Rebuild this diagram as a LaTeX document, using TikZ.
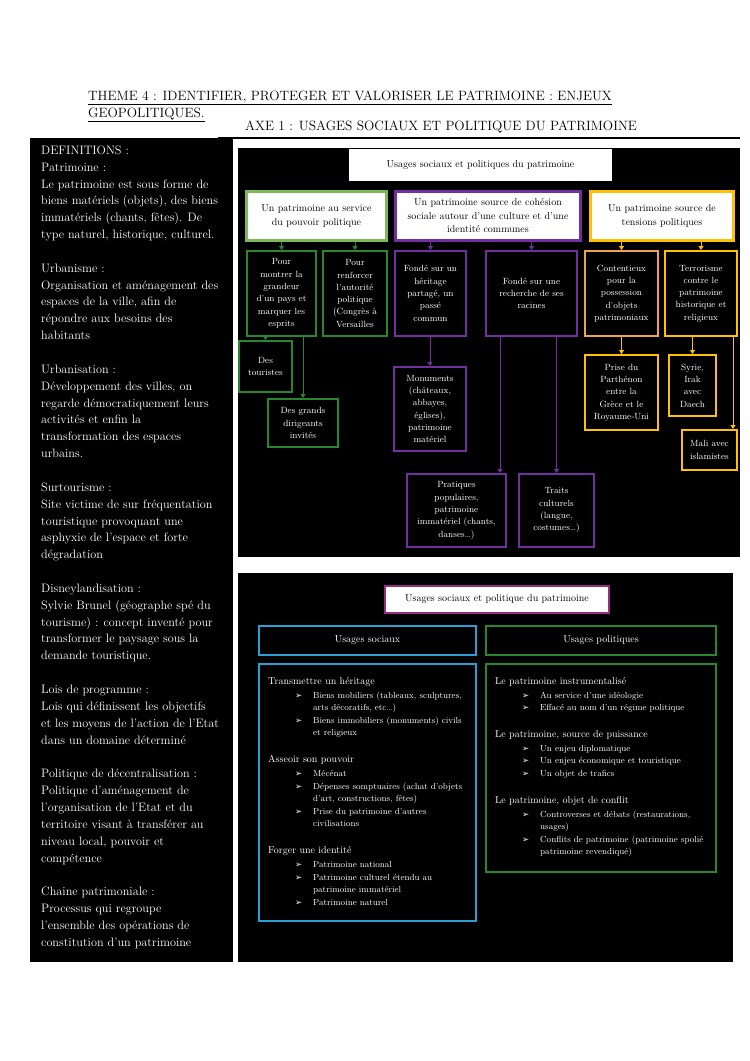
\documentclass[tikz,border=0pt]{standalone}
\usepackage{fontspec}
\usepackage{xcolor}
\usetikzlibrary{arrows.meta,positioning}
\newfontfamily\bulletfont{DejaVu Sans}

\definecolor{vertclair}{RGB}{125,185,85}
\definecolor{vertfonce}{RGB}{40,135,45}
\definecolor{violetp}{RGB}{112,48,160}
\definecolor{jaunep}{RGB}{255,192,0}
\definecolor{orangep}{RGB}{240,160,80}
\definecolor{bleup}{RGB}{40,160,215}
\definecolor{magentap}{RGB}{150,45,130}

% puces des listes
\newcommand{\listhd}{\fontsize{10}{12.6}\selectfont}
\newcommand{\bulitem}{\hspace*{27pt}\makebox[18pt][l]{\bulletfont\fontsize{8.5}{8}\selectfont ➢}}
\newcommand{\bulcont}{\hspace*{45pt}}

\begin{document}
\begin{tikzpicture}[x=1pt, y=-1pt,
    titre/.style={inner sep=0, font=\fontsize{13.5}{16}\selectfont},
    deftxt/.style={text=white, align=left, inner sep=0, anchor=north west, font=\fontsize{12.2}{16.85}\selectfont},
    headbox/.style={fill=white, draw=#1, line width=2.5pt, align=center, inner sep=0, font=\fontsize{10}{13.5}\selectfont},
    leafbox/.style={fill=black, draw=#1, line width=2pt, text=white, align=center, inner sep=0, font=\fontsize{9}{12.3}\selectfont},
    secbox/.style={fill=black, draw=#1, line width=2pt, text=white, inner sep=0, font=\fontsize{10}{12}\selectfont},
    listtxt/.style={text=white, align=left, inner sep=0, anchor=north west, font=\fontsize{8.8}{12.6}\selectfont},
    arr/.style={draw=#1, line width=1pt, -{Triangle[width=5pt,length=4pt]}}
]
    \useasboundingbox (0,0) rectangle (750,1061);

    % Titres
    \node[titre, anchor=base west] (theme) at (88,100) {\underline{THEME 4 : IDENTIFIER, PROTEGER ET VALORISER LE PATRIMOINE : ENJEUX}};
    \node[titre, anchor=base west] (theme2) at (88,117) {\underline{GEOPOLITIQUES.}};
    \node[titre, anchor=base west] (axe) at (245,130) {AXE 1 : USAGES SOCIAUX ET POLITIQUE DU PATRIMOINE};
    \draw[line width=1.5pt] (218,138) -- (740,138);

    % Colonne des definitions
    \fill[black] (30,138) rectangle (233,962);
    \node[deftxt] (defs) at (41,145.5) {DEFINITIONS :\\
        Patrimoine :\\
        Le patrimoine est sous forme de\\
        biens matériels (objets), des biens\\
        immatériels (chants, fêtes). De\\
        type naturel, historique, culturel.\\[16.85pt]
        Urbanisme :\\
        Organisation et aménagement des\\
        espaces de la ville, afin de\\
        répondre aux besoins des\\
        habitants\\[16.85pt]
        Urbanisation :\\
        Développement des villes, on\\
        regarde démocratiquement leurs\\
        activités et enfin la\\
        transformation des espaces\\
        urbains.\\[16.85pt]
        Surtourisme :\\
        Site victime de sur fréquentation\\
        touristique provoquant une\\
        asphyxie de l’espace et forte\\
        dégradation\\[16.85pt]
        Disneylandisation :\\
        Sylvie Brunel (géographe spé du\\
        tourisme) : concept inventé pour\\
        transformer le paysage sous la\\
        demande touristique.\\[16.85pt]
        Lois de programme :\\
        Lois qui définissent les objectifs\\
        et les moyens de l’action de l’Etat\\
        dans un domaine déterminé\\[16.85pt]
        Politique de décentralisation :\\
        Politique d’aménagement de\\
        l’organisation de l’Etat et du\\
        territoire visant à transférer au\\
        niveau local, pouvoir et\\
        compétence\\[16.85pt]
        Chaine patrimoniale :\\
        Processus qui regroupe\\
        l’ensemble des opérations de\\
        constitution d’un patrimoine};

    % Schema du haut
    \fill[black] (238,148) rectangle (740,557);
    \node[headbox=white, minimum width=261pt, minimum height=30pt] (usages) at (480.5,165) {Usages sociaux et politiques du patrimoine};

    \node[headbox=vertclair, minimum width=140pt, minimum height=49pt] (serv) at (316.5,216) {Un patrimoine au service\\du pouvoir politique};
    \node[headbox=violetp, minimum width=185pt, minimum height=49pt] (cohes) at (488,216) {Un patrimoine source de cohésion\\sociale autour d’une culture et d’une\\identité communes};
    \node[headbox=jaunep, minimum width=143pt, minimum height=49pt] (tens) at (662,216) {Un patrimoine source de\\tensions politiques};

    \node[leafbox=vertfonce, minimum width=69pt, minimum height=85pt] (mont) at (281.5,293.5) {Pour\\montrer la\\grandeur\\d’un pays et\\marquer les\\esprits};
    \node[leafbox=vertfonce, minimum width=64pt, minimum height=85pt] (renf) at (355,293.5) {Pour\\renforcer\\l’autorité\\politique\\(Congrès à\\Versailles};
    \node[leafbox=violetp, minimum width=71pt, minimum height=85pt] (herit) at (430.5,293.5) {Fondé sur un\\héritage\\partagé, un\\passé\\commun};
    \node[leafbox=violetp, minimum width=91pt, minimum height=85pt] (racin) at (531.5,293.5) {Fondé sur une\\recherche de ses\\racines};
    \node[leafbox=orangep, minimum width=73pt, minimum height=85pt] (conten) at (621.5,293.5) {Contentieux\\pour la\\possession\\d’objets\\patrimoniaux};
    \node[leafbox=jaunep, minimum width=72pt, minimum height=85pt] (terro) at (701,293.5) {Terrorisme\\contre le\\patrimoine\\historique et\\religieux};

    \node[leafbox=vertfonce, minimum width=53pt, minimum height=51pt] (tour) at (265.5,366.5) {Des\\touristes};
    \node[leafbox=vertfonce, minimum width=70pt, minimum height=48pt] (dirig) at (303,423) {Des grands\\dirigeants\\invités};
    \node[leafbox=violetp, minimum width=72pt, minimum height=84pt] (monum) at (430,409) {Monuments\\(châteaux,\\abbayes,\\églises),\\patrimoine\\matériel};
    \node[leafbox=violetp, minimum width=99pt, minimum height=73pt] (prat) at (456.5,510.5) {Pratiques\\populaires,\\patrimoine\\immatériel (chants,\\danses…)};
    \node[leafbox=violetp, minimum width=75pt, minimum height=73pt] (trait) at (556.5,510.5) {Traits\\culturels\\(langue,\\costumes…)};
    \node[leafbox=jaunep, minimum width=73pt, minimum height=75pt] (parth) at (621.5,392.5) {Prise du\\Parthénon\\entre la\\Grèce et le\\Royaume-Uni};
    \node[leafbox=jaunep, minimum width=47pt, minimum height=61pt] (syrie) at (692.5,385.5) {Syrie,\\Irak\\avec\\Daech};
    \node[leafbox=jaunep, minimum width=55pt, minimum height=40pt] (mali) at (709.5,450) {Mali avec\\islamistes};

    % Fleches
    \draw[arr=vertfonce] (serv.south -| mont.north) -- (mont.north);
    \draw[arr=vertfonce] (serv.south -| renf.north) -- (renf.north);
    \draw[arr=vertfonce] (mont.south -| tour.north) -- (tour.north);
    \draw[arr=vertfonce] (mont.south -| dirig.north) -- (dirig.north);
    \draw[arr=violetp] (cohes.south -| herit.north) -- (herit.north);
    \draw[arr=violetp] (cohes.south -| racin.north) -- (racin.north);
    \draw[arr=violetp] (herit.south -| monum.north) -- (monum.north);
    \coordinate (pratin) at ([xshift=15pt]racin.south west);
    \draw[arr=violetp] (pratin) -- (pratin |- prat.north);
    \draw[arr=violetp] (racin.south -| trait.north) -- (trait.north);
    \draw[arr=jaunep] (tens.south -| conten.north) -- (conten.north);
    \draw[arr=jaunep] (tens.south -| terro.north) -- (terro.north);
    \draw[arr=jaunep] (conten.south -| parth.north) -- (parth.north);
    \draw[arr=jaunep] (terro.south -| syrie.north) -- (syrie.north);
    \coordinate (maliin) at ([xshift=-5pt]terro.south east);
    \draw[arr=jaunep] (maliin) -- (maliin |- mali.north);

    % Schema du bas
    \fill[black] (238,573) rectangle (733,962);
    \node[headbox=magentap, line width=1.8pt, minimum width=224pt, minimum height=27pt] (usages2) at (497,599.5) {Usages sociaux et politique du patrimoine};
    \node[secbox=bleup, minimum width=217pt, minimum height=29pt] (soc) at (367.5,640.5) {Usages sociaux};
    \node[secbox=vertfonce, minimum width=230pt, minimum height=29pt] (pol) at (601,640.5) {Usages politiques};
    \node[secbox=bleup, minimum width=217pt, minimum height=257pt] (socbox) at (367.5,792.5) {};
    \node[secbox=vertfonce, minimum width=230pt, minimum height=208pt] (polbox) at (601,768) {};

    \node[listtxt] (soctxt) at ([xshift=10pt,yshift=-14pt]socbox.north west) {%
        {\listhd Transmettre un héritage}\\[1.4pt]
        \bulitem Biens mobiliers (tableaux, sculptures,\\
        \bulcont arts décoratifs, etc…)\\
        \bulitem Biens immobiliers (monuments) civils\\
        \bulcont et religieux\\[14pt]
        {\listhd Asseoir son pouvoir}\\[1.4pt]
        \bulitem Mécénat\\
        \bulitem Dépenses somptuaires (achat d’objets\\
        \bulcont d’art, constructions, fêtes)\\
        \bulitem Prise du patrimoine d’autres\\
        \bulcont civilisations\\[14pt]
        {\listhd Forger une identité}\\[1.4pt]
        \bulitem Patrimoine national\\
        \bulitem Patrimoine culturel étendu au\\
        \bulcont patrimoine immatériel\\
        \bulitem Patrimoine naturel};

    \node[listtxt] (poltxt) at ([xshift=10pt,yshift=-14pt]polbox.north west) {%
        {\listhd Le patrimoine instrumentalisé}\\[1.4pt]
        \bulitem Au service d’une idéologie\\
        \bulitem Effacé au nom d’un régime politique\\[14pt]
        {\listhd Le patrimoine, source de puissance}\\[1.4pt]
        \bulitem Un enjeu diplomatique\\
        \bulitem Un enjeu économique et touristique\\
        \bulitem Un objet de trafics\\[14pt]
        {\listhd Le patrimoine, objet de conflit}\\[1.4pt]
        \bulitem Controverses et débats (restaurations,\\
        \bulcont usages)\\
        \bulitem Conflits de patrimoine (patrimoine spolié\\
        \bulcont patrimoine revendiqué)};
\end{tikzpicture}
\end{document}
